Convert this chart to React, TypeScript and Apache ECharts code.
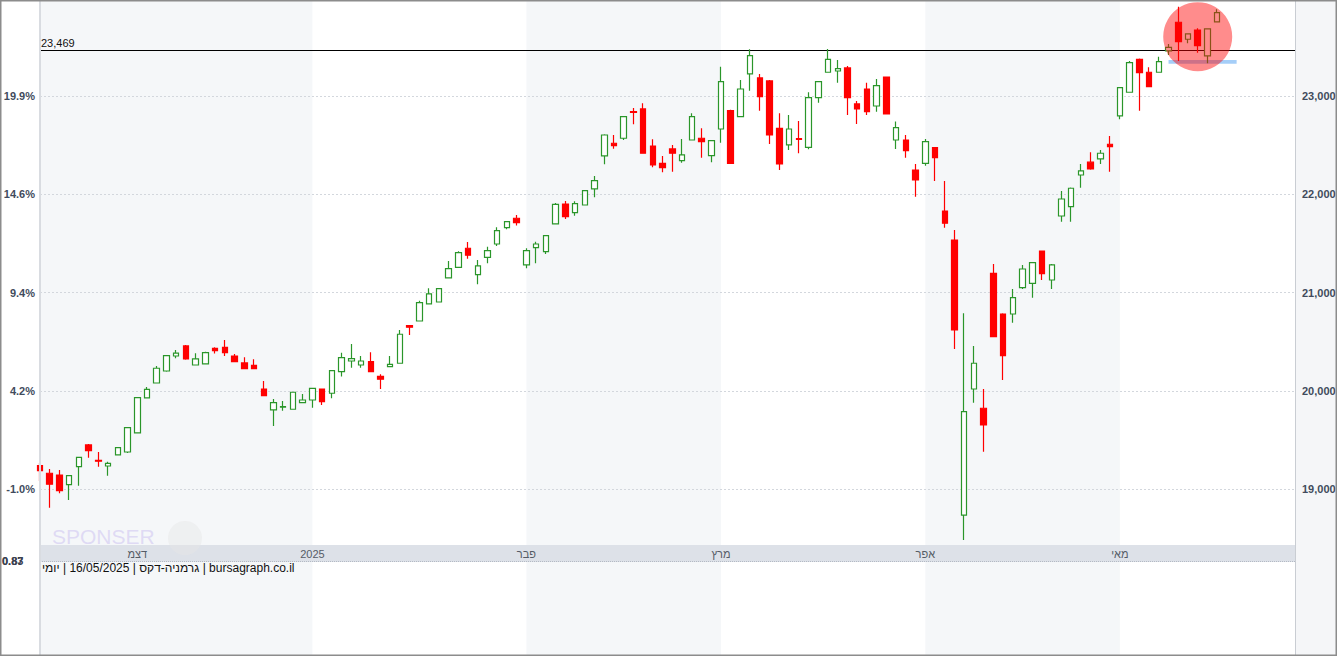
import React, { useEffect, useRef } from "react";
import * as echarts from "echarts";

// ---- data ----
const tradingDates = [
  "2024-11-18","2024-11-19","2024-11-20","2024-11-21","2024-11-22","2024-11-25","2024-11-26","2024-11-27","2024-11-28","2024-11-29",
  "2024-12-02","2024-12-03","2024-12-04","2024-12-05","2024-12-06","2024-12-09","2024-12-10","2024-12-11","2024-12-12","2024-12-13",
  "2024-12-16","2024-12-17","2024-12-18","2024-12-19","2024-12-20","2024-12-23","2024-12-27","2024-12-30",
  "2025-01-02","2025-01-03","2025-01-06","2025-01-07","2025-01-08","2025-01-09","2025-01-10","2025-01-13","2025-01-14","2025-01-15",
  "2025-01-16","2025-01-17","2025-01-20","2025-01-21","2025-01-22","2025-01-23","2025-01-24","2025-01-27","2025-01-28","2025-01-29",
  "2025-01-30","2025-01-31",
  "2025-02-03","2025-02-04","2025-02-05","2025-02-06","2025-02-07","2025-02-10","2025-02-11","2025-02-12","2025-02-13","2025-02-14",
  "2025-02-17","2025-02-18","2025-02-19","2025-02-20","2025-02-21","2025-02-24","2025-02-25","2025-02-26","2025-02-27","2025-02-28",
  "2025-03-03","2025-03-04","2025-03-05","2025-03-06","2025-03-07","2025-03-10","2025-03-11","2025-03-12","2025-03-13","2025-03-14",
  "2025-03-17","2025-03-18","2025-03-19","2025-03-20","2025-03-21","2025-03-24","2025-03-25","2025-03-26","2025-03-27","2025-03-28",
  "2025-03-31",
  "2025-04-01","2025-04-02","2025-04-03","2025-04-04","2025-04-07","2025-04-08","2025-04-09","2025-04-10","2025-04-11","2025-04-14",
  "2025-04-15","2025-04-16","2025-04-17","2025-04-22","2025-04-23","2025-04-24","2025-04-25","2025-04-28","2025-04-29","2025-04-30",
  "2025-05-02","2025-05-05","2025-05-06","2025-05-07","2025-05-08","2025-05-09","2025-05-12","2025-05-13","2025-05-14","2025-05-15",
  "2025-05-16",
];
const futureDates = ["2025-05-19","2025-05-20","2025-05-21","2025-05-22","2025-05-23","2025-05-26","2025-05-27","2025-05-28"];

const opens = [
  19239,19162,19144,19046,19229,19450,19292,19236,19348,19378,
  19572,19928,20080,20202,20355,20457,20263,20274,20433,20443,
  20355,20284,20260,20019,19806,19834,19813,19880,19907,20019,
  19976,20195,20304,20263,20297,20148,20246,20281,20664,20711,
  20884,20904,21149,21257,21451,21182,21359,21494,21660,21756,
  21281,21457,21416,21698,21901,21813,21891,22054,22390,22519,
  22570,22842,22868,22491,22315,22461,22342,22552,22570,22393,
  22664,22850,22789,23224,23183,23153,22671,22502,22567,22478,
  22983,23241,23254,23285,22919,23071,22898,23193,22552,22552,
  22247,22315,22474,21830,21535,18737,20019,19823,21196,20782,
  20782,21050,21094,21423,21128,21779,21874,22196,22326,22359,
  22509,22797,23038,23373,23241,23241,23458,23750,23577,23671,23407,23753,
];
const closes = [
  19189,19050,18985,19137,19324,19392,19285,19263,19422,19626,
  19931,20016,20230,20358,20383,20325,20325,20389,20409,20389,
  20297,20226,20226,19951,19880,19840,19986,19907,20026,19890,
  20206,20338,20328,20304,20195,20118,20270,20576,20648,20897,
  20986,21040,21243,21406,21380,21271,21427,21630,21721,21711,
  21426,21494,21579,21898,21772,21904,22037,22138,22603,22494,
  22789,22832,22417,22298,22271,22417,22400,22789,22535,22545,
  23145,22315,23071,23410,22993,22603,22308,22664,22557,22983,
  23145,23373,23278,22983,22868,22840,23105,22817,22678,22444,
  22145,22535,22372,21705,20620,19788,20281,19653,20551,20358,
  20948,21240,21304,21192,21281,21952,22061,22237,22257,22417,
  22485,23084,23339,23237,23095,23349,23495,23552,23631,23512,23682,23847,
];
const highs = [
  19267,19205,19195,19144,19327,19460,19378,19280,19425,19630,
  19935,20040,20253,20365,20416,20467,20383,20399,20443,20518,
  20375,20342,20321,20101,19918,19897,19990,19968,20030,20025,
  20210,20389,20477,20355,20393,20169,20355,20620,20670,20918,
  21044,21045,21321,21420,21515,21332,21467,21664,21725,21789,
  21451,21518,21585,21912,21932,21929,22040,22186,22610,22603,
  22795,22878,22926,22560,22390,22502,22563,22824,22671,22550,
  23298,22860,23163,23475,23224,23163,22824,22807,22746,23038,
  23150,23478,23366,23305,22949,23135,23173,23195,22739,22603,
  22308,22563,22480,22135,21637,20789,20457,20019,21291,20790,
  21037,21281,21310,21425,21290,22034,22070,22308,22427,22451,
  22593,23090,23356,23380,23292,23400,23529,23908,23635,23689,23690,23882,
];
const lows = [
  19084,18812,18958,18890,19036,19320,19229,19137,19345,19368,
  19568,19925,20075,20195,20332,20317,20263,20270,20379,20355,
  20297,20226,20226,19951,19643,19799,19810,19874,19829,19857,
  19925,20145,20236,20236,20190,20019,20240,20275,20569,20705,
  20880,20900,21145,21250,21345,21084,21298,21474,21644,21681,
  21247,21298,21393,21695,21749,21782,21885,21969,22305,22464,
  22552,22712,22415,22275,22224,22230,22321,22550,22372,22326,
  22525,22310,22785,23054,22850,22512,22247,22451,22417,22458,
  22932,23238,23135,22807,22715,22807,22840,22815,22461,22372,
  21976,22291,22135,21660,20426,18483,19880,19381,20545,20111,
  20694,21037,20948,21128,21037,21721,21721,22067,22250,22308,
  22230,22763,23035,22850,23090,23238,23417,23356,23536,23440,23333,23750,
];

const gridValues = [19000, 20000, 21000, 22000, 23000];
const refLevel = 23469;
const monthStarts = ["2024-12-02", "2025-01-02", "2025-02-03", "2025-03-03", "2025-04-01", "2025-05-02"];
const monthNames = ["דצמ", "2025", "פבר", "מרץ", "אפר", "מאי"];
const circleDate = "2025-05-14";
const circleLevel = 23603;
const blueBar = { from: "2025-05-09", to: "2025-05-20", top: 23366, bottom: 23328 };
const sideNotes = ["0.87", "0.83"];

const FONT = "'Liberation Sans', Arial, Helvetica, sans-serif";

export default function App() {
  const ref = useRef<HTMLDivElement>(null);

  useEffect(() => {
    const el = ref.current;
    if (!el) return;
    const chart = echarts.init(el, null, { renderer: "svg" });

    const allDates = [...tradingDates, ...futureDates];
    const base = closes[0];
    const candles = tradingDates.map((_, i) => [opens[i], closes[i], lows[i], highs[i]]);
    const yMin = 17303;
    const yMax = 23966;

    const numFmt = (v: number) => (gridValues.includes(v) ? v.toLocaleString("en-US") : "");
    const pctFmt = (v: number) =>
      gridValues.includes(v) ? (((v / base) - 1) * 100).toFixed(1) + "%" : "";

    const labelColor = "#414b5c";
    const bands = [
      [allDates[0], monthStarts[1]],
      [monthStarts[2], monthStarts[3]],
      [monthStarts[4], monthStarts[5]],
    ];

    const option: any = {
      animation: false,
      backgroundColor: "#ffffff",
      grid: { left: 40, right: 42, top: 1, bottom: 0, containLabel: false, outerBoundsMode: "none" },
      xAxis: {
        type: "category",
        data: allDates,
        boundaryGap: false,
        offset: -111,
        z: 4,
        axisLine: { show: false },
        axisTick: { show: false },
        splitLine: { show: false },
        axisLabel: {
          interval: (_i: number, v: string) => monthStarts.includes(v),
          formatter: (v: string) => {
            const k = monthStarts.indexOf(v);
            return k >= 0 ? monthNames[k] : "";
          },
          color: "#555c66",
          fontSize: 11,
          fontFamily: FONT,
          margin: 3,
        },
      },
      yAxis: [
        {
          type: "value",
          position: "left",
          min: yMin,
          max: yMax,
          z: 4,
          splitLine: { show: false },
          axisTick: { show: false },
          axisLine: { show: true, lineStyle: { color: "#d9dce1", width: 2 } },
          axisLabel: {
            customValues: gridValues,
            formatter: pctFmt,
            margin: 5,
            color: labelColor,
            fontWeight: "bold",
            fontSize: 11,
            fontFamily: FONT,
          },
        },
        {
          type: "value",
          position: "right",
          min: yMin,
          max: yMax,
          z: 4,
          splitLine: { show: false },
          axisTick: { show: false },
          axisLine: { show: true, lineStyle: { color: "#c9cdd3", width: 1 } },
          axisLabel: {
            customValues: gridValues,
            formatter: numFmt,
            margin: 7,
            color: labelColor,
            fontWeight: "bold",
            fontSize: 11,
            fontFamily: FONT,
          },
        },
      ],
      series: [
        {
          type: "candlestick",
          data: candles,
          barWidth: 6,
          clip: false,
          itemStyle: {
            color: "#ffffff",
            color0: "#ff0000",
            borderColor: "#2a962a",
            borderColor0: "#ff0000",
            borderWidth: 1.2,
          },
          markArea: {
            silent: true,
            z: 1,
            label: { show: false },
            itemStyle: { color: "#f5f7f9" },
            data: [
              ...bands.map(([a, b]) => [{ xAxis: a }, { xAxis: b }]),
              [
                { xAxis: blueBar.from, yAxis: blueBar.top, itemStyle: { color: "rgba(135,190,245,0.75)" } },
                { xAxis: blueBar.to, yAxis: blueBar.bottom },
              ],
            ],
          },
          markLine: {
            silent: true,
            z: 1.5,
            symbol: ["none", "none"],
            data: [
              ...gridValues.map((v) => ({
                yAxis: v,
                lineStyle: { color: "#d3d7dd", type: [2, 2], width: 1 },
                label: { show: false },
              })),
              {
                yAxis: refLevel,
                lineStyle: { color: "#000000", type: "solid", width: 1 },
                label: {
                  show: true,
                  position: "insideStartTop",
                  formatter: refLevel.toLocaleString("en-US"),
                  color: "#111111",
                  fontSize: 11,
                  fontFamily: FONT,
                  distance: [1, 1],
                },
              },
            ],
          },
          markPoint: {
            silent: true,
            z: 6,
            symbol: "circle",
            symbolSize: 69,
            itemStyle: { color: "rgba(255,0,0,0.45)" },
            label: { show: false },
            data: [{ coord: [circleDate, circleLevel] }],
          },
        },
      ],
      graphic: [
        { type: "rect", silent: true, z: 0, shape: { x: 1295, y: 0, width: 42, height: 656 }, style: { fill: "#f5f6f8" } },
        { type: "rect", silent: true, z: 3, shape: { x: 40, y: 545, width: 1255, height: 17 }, style: { fill: "#dde1e8" } },
        {
          type: "line", silent: true, z: 3,
          shape: { x1: 40, y1: 561.5, x2: 1295, y2: 561.5 },
          style: { stroke: "#b4bac4", lineWidth: 1, lineDash: [1, 1] },
        },
        {
          type: "circle", silent: true, z: 4,
          shape: { cx: 185, cy: 538, r: 17 },
          style: { fill: "#e6e6e6", opacity: 0.45 },
        },
        {
          type: "text", silent: true, z: 4, x: 52, y: 536,
          style: {
            text: "SPONSER", fill: "#d9d3f3", opacity: 0.8,
            fontSize: 21, fontFamily: FONT, align: "left", verticalAlign: "middle",
          },
        },
        ...sideNotes.map((t) => ({
          type: "text", silent: true, z: 4, x: 2, y: 561,
          style: { text: t, fill: "#3c4250", fontSize: 11, fontWeight: "bold", fontFamily: FONT, align: "left", verticalAlign: "middle" },
        })),
        {
          type: "text", silent: true, z: 4, x: 42, y: 567.5,
          style: {
            text: "{a|יומי}{s|\u00a0|\u00a016/05/2025\u00a0|\u00a0}{a|גרמניה-דקס}{s|\u00a0|\u00a0bursagraph.co.il}",
            fill: "#111111", fontSize: 12, fontFamily: FONT, align: "left", verticalAlign: "middle",
            rich: {
              a: { fill: "#111111", fontSize: 12, fontFamily: FONT },
              s: { fill: "#111111", fontSize: 12, fontFamily: FONT },
            },
          },
        },
        {
          type: "rect", silent: true, z: 10,
          shape: { x: 0.75, y: 0.75, width: 1335.5, height: 654.5 },
          style: { fill: "none", stroke: "#8c8c8c", lineWidth: 1.5 },
        },
      ],
    };

    chart.setOption(option);
    return () => chart.dispose();
  }, []);

  return (
    <div
      ref={ref}
      style={{ position: "fixed", left: 0, top: 0, width: 1337, height: 656, background: "#ffffff" }}
    />
  );
}
